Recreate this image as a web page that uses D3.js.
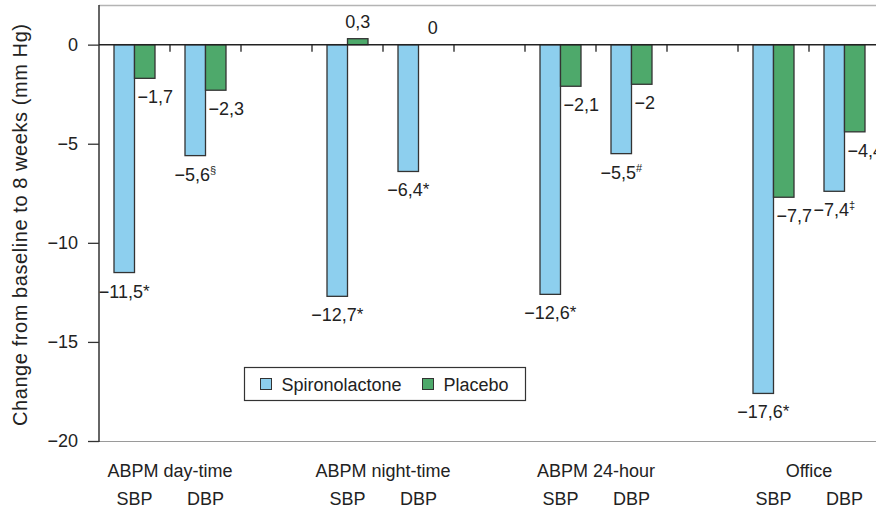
<!DOCTYPE html>
<html>
<head>
<meta charset="utf-8">
<script src="https://cdn.jsdelivr.net/npm/d3@7"></script>
<style>
  body { margin: 0; background: #fff; }
  svg { display: block; font-family: "Liberation Sans", Arial, sans-serif; }
</style>
</head>
<body>
<div id="chart"></div>
<script>
// groups along the x axis, each with an SBP and a DBP pair of bars
const groups = ["ABPM day-time", "ABPM night-time", "ABPM 24-hour", "Office"];
const measures = ["SBP", "DBP"];
const seriesNames = ["Spironolactone", "Placebo"];

// values in group order: SBP, DBP, SBP, DBP ...
const spironolactone = [-11.5, -5.6, -12.7, -6.4, -12.6, -5.5, -17.6, -7.4];
const placebo = [-1.7, -2.3, 0.3, 0, -2.1, -2, -7.7, -4.4];
const spiroMarks = ["*", "§", "*", "*", "*", "#", "*", "‡"];
const placeboMarks = ["", "", "", "", "", "", "", ""];

const yTicks = [0, -5, -10, -15, -20];
const colors = ["#8dcfee", "#4ea96b"];

const W = 876, H = 509;
var margin = { top: 5, left: 99 },
	plotBottom = 441,
	plotRight = 880;

const svg = d3.select("#chart").append("svg").attr("width", W).attr("height", H);

// slots: SBP, DBP, gap, SBP, DBP, gap ...
const slots = [];
groups.forEach((g, i) => {
	measures.forEach((m) => slots.push(g + "|" + m));
	if (i < groups.length - 1) slots.push("gap" + i);
});

const xScale = d3.scaleBand().domain(slots).range([margin.left, plotRight]).padding(0);
const bw = xScale.bandwidth();
const barW = 20.5;
const xInner = d3.scaleBand().domain(seriesNames).range([bw / 2 - barW, bw / 2 + barW]);

const yScale = d3.scaleLinear().domain([-20, 2]).range([plotBottom, margin.top]);

const rows = [];
let k = 0;
groups.forEach((g) => {
	measures.forEach((m) => {
		rows.push({ slot: g + "|" + m, series: "Spironolactone", value: spironolactone[k], mark: spiroMarks[k] });
		rows.push({ slot: g + "|" + m, series: "Placebo", value: placebo[k], mark: placeboMarks[k] });
		k++;
	});
});

// frame lines (top / bottom are light grey)
svg.append("line")
	.attr("x1", margin.left).attr("x2", W)
	.attr("y1", margin.top + 0.5).attr("y2", margin.top + 0.5)
	.attr("stroke", "#b4b4b4").attr("stroke-width", 1.5);
svg.append("line")
	.attr("x1", margin.left).attr("x2", W)
	.attr("y1", plotBottom + 0.5).attr("y2", plotBottom + 0.5)
	.attr("stroke", "#9a9a9a").attr("stroke-width", 1.2);

// y axis
const yAxis = svg.append("g")
	.attr("transform", "translate(" + margin.left + ",0)")
	.call(d3.axisLeft(yScale).tickValues(yTicks).tickSize(11).tickPadding(10)
		.tickFormat((d) => (d < 0 ? "\u2212" + Math.abs(d) : d)));
yAxis.select(".domain").remove();
yAxis.selectAll("line").attr("stroke", "#333").attr("stroke-width", 1.3);
yAxis.selectAll("text").attr("font-size", "18px").attr("fill", "#222").attr("font-family", "Liberation Sans, Arial, sans-serif");
svg.append("line")
	.attr("x1", margin.left).attr("x2", margin.left)
	.attr("y1", margin.top).attr("y2", plotBottom + 1)
	.attr("stroke", "#333").attr("stroke-width", 1.5);

svg.append("text")
	.attr("transform", "rotate(-90)")
	.attr("x", -225)
	.attr("y", 27)
	.attr("text-anchor", "middle")
	.attr("font-size", "20px")
	.attr("textLength", 402)
	.attr("lengthAdjust", "spacing")
	.attr("fill", "#222")
	.text("Change from baseline to 8 weeks (mm Hg)");

// bars
svg.selectAll("rect.bar")
	.data(rows)
	.enter()
	.append("rect")
	.attr("class", "bar")
	.attr("x", (d) => xScale(d.slot) + xInner(d.series))
	.attr("width", xInner.bandwidth())
	.attr("y", (d) => yScale(Math.max(0, d.value)))
	.attr("height", (d) => Math.abs(yScale(d.value) - yScale(0)))
	.attr("fill", (d) => (d.series === "Spironolactone" ? colors[0] : colors[1]))
	.attr("stroke", "#333")
	.attr("stroke-width", 1.3);

// zero line with band ticks
svg.append("line")
	.attr("x1", margin.left).attr("x2", W)
	.attr("y1", yScale(0)).attr("y2", yScale(0))
	.attr("stroke", "#222").attr("stroke-width", 1.5);
svg.selectAll("line.band")
	.data(slots.slice(1))
	.enter()
	.append("line")
	.attr("class", "band")
	.attr("x1", (d) => xScale(d)).attr("x2", (d) => xScale(d))
	.attr("y1", yScale(0)).attr("y2", yScale(0) + 7)
	.attr("stroke", "#222").attr("stroke-width", 1.3);

// value labels
const fmt = (v) => (v < 0 ? "\u2212" : "") + String(Math.abs(v)).replace(".", ",");
const labels = svg.selectAll("text.val")
	.data(rows)
	.enter()
	.append("text")
	.attr("class", "val")
	.attr("font-size", "18px")
	.attr("fill", "#222")
	.attr("text-anchor", (d) => (d.series === "Placebo" && d.value < 0 ? "start" : "middle"))
	.attr("x", function (d) {
		const left = xScale(d.slot) + xInner(d.series);
		if (d.series === "Placebo" && d.value < 0) return left + 3;
		return left + xInner.bandwidth() / 2 + (d.value === 0 ? 4 : 0);
	})
	.attr("y", (d) => (d.value < 0 ? yScale(d.value) + 25 : yScale(d.value) - 11));
labels.append("tspan").text((d) => fmt(d.value));
labels.append("tspan")
	.attr("font-size", (d) => (d.mark === "*" ? "17px" : "11px"))
	.attr("dy", (d) => (d.mark === "*" ? -1 : -7))
	.text((d) => d.mark);

// category labels
svg.selectAll("text.group")
	.data(groups)
	.enter()
	.append("text")
	.attr("class", "group")
	.attr("x", (d) => xScale(d + "|DBP"))
	.attr("y", 477)
	.attr("text-anchor", "middle")
	.attr("font-size", "18px")
	.attr("fill", "#222")
	.text((d) => d);
svg.selectAll("text.measure")
	.data(slots.filter((s) => s.indexOf("|") > 0))
	.enter()
	.append("text")
	.attr("class", "measure")
	.attr("x", (d) => xScale(d) + bw / 2)
	.attr("y", 505)
	.attr("text-anchor", "middle")
	.attr("font-size", "18px")
	.attr("fill", "#222")
	.text((d) => d.split("|")[1]);

// legend
const legend = svg.append("g").attr("transform", "translate(244.5,367.5)");
legend.append("rect")
	.attr("width", 281).attr("height", 33)
	.attr("fill", "#fff").attr("stroke", "#333").attr("stroke-width", 1.2);
const legendX = [16, 178];
seriesNames.forEach((name, i) => {
	legend.append("rect")
		.attr("x", legendX[i]).attr("y", 11)
		.attr("width", 11).attr("height", 11)
		.attr("fill", colors[i]).attr("stroke", "#333").attr("stroke-width", 1);
	legend.append("text")
		.attr("x", legendX[i] + 21).attr("y", 23)
		.attr("font-size", "18px")
		.attr("fill", "#222")
		.text(name);
});
</script>
</body>
</html>
